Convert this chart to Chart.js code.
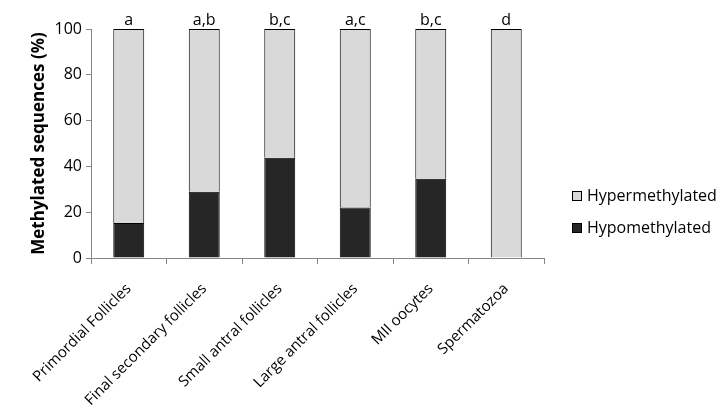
<!DOCTYPE html>
<html>
<head>
<meta charset="utf-8">
<script src="https://cdn.jsdelivr.net/npm/chart.js@4"></script>
<style>
html,body{margin:0;padding:0;background:#fff;}
#wrap{width:727px;height:413px;position:relative;}
</style>
</head>
<body>
<div id="wrap"><canvas id="c" width="727" height="413"></canvas></div>
<script>
const categories = ['Primordial Follicles','Final secondary follicles','Small antral follicles','Large antral follicles','MII oocytes','Spermatozoa'];
const hypomethylated = [15.3, 28.9, 43.8, 22.1, 34.6, 0];
const hypermethylated = [84.7, 71.1, 56.2, 77.9, 65.4, 100];
const sigLetters = ['a','a,b','b,c','a,c','b,c','d'];
const yTicks = [0, 20, 40, 60, 80, 100];

const FONT = '"Open Sans", "Liberation Sans", sans-serif';
const AXIS = '#868686';

const letterPlugin = {
  id: 'letters',
  afterDatasetsDraw(chart) {
    const ctx = chart.ctx;
    const xs = chart.scales.x, ys = chart.scales.y;
    ctx.save();
    ctx.font = '16px ' + FONT;
    ctx.fillStyle = '#000';
    ctx.textAlign = 'center';
    ctx.textBaseline = 'alphabetic';
    sigLetters.forEach((t, i) => {
      const total = hypomethylated[i] + hypermethylated[i];
      ctx.fillText(t, xs.getPixelForValue(i), ys.getPixelForValue(total) - 4);
    });
    ctx.restore();
  }
};

const legendPlugin = {
  id: 'customLegend',
  afterDraw(chart) {
    const ctx = chart.ctx;
    const items = chart.data.datasets.slice().reverse();
    ctx.save();
    ctx.font = '16px ' + FONT;
    ctx.textBaseline = 'middle';
    ctx.textAlign = 'left';
    items.forEach((ds, k) => {
      const cy = 196 + k * 32;
      ctx.fillStyle = ds.backgroundColor;
      ctx.fillRect(572.5, cy - 4.5, 9, 9);
      ctx.strokeStyle = '#000';
      ctx.lineWidth = 1;
      ctx.strokeRect(572.5, cy - 4.5, 9, 9);
      ctx.fillStyle = '#000';
      ctx.fillText(ds.label, 587, cy);
    });
    ctx.restore();
  }
};

new Chart(document.getElementById('c'), {
  type: 'bar',
  data: {
    labels: categories,
    datasets: [
      {label: 'Hypomethylated', data: hypomethylated, backgroundColor: '#262626', borderColor: '#000', borderWidth: 1, categoryPercentage: 1, barPercentage: 0.41},
      {label: 'Hypermethylated', data: hypermethylated, backgroundColor: '#d9d9d9', borderColor: '#000', borderWidth: 1, categoryPercentage: 1, barPercentage: 0.41}
    ]
  },
  options: {
    responsive: false,
    animation: false,
    devicePixelRatio: 1,
    layout: {padding: {top: 29, right: 183, left: 0, bottom: 0}},
    plugins: {legend: {display: false}, tooltip: {enabled: false}},
    scales: {
      x: {
        stacked: true,
        offset: true,
        grid: {offset: true, drawOnChartArea: false, tickLength: 6, color: AXIS},
        border: {color: AXIS, width: 1},
        ticks: {color: '#000', font: {family: FONT, size: 15}, minRotation: 45, maxRotation: 45, padding: 16, autoSkip: false},
        afterFit(s) { s.height = 155; }
      },
      y: {
        stacked: true,
        min: 0, max: 100,
        afterBuildTicks(s) { s.ticks = yTicks.map(v => ({value: v})); },
        grid: {drawOnChartArea: false, tickLength: 5, color: AXIS},
        border: {color: AXIS, width: 1},
        ticks: {color: '#000', font: {family: FONT, size: 16}, padding: 4},
        title: {display: true, text: 'Methylated sequences (%)', color: '#000', font: {family: FONT, size: 17, weight: 'bold'}, padding: {top: 29, bottom: 0}},
        afterFit(s) { s.width = 91; }
      }
    }
  },
  plugins: [letterPlugin, legendPlugin]
});
</script>
</body>
</html>
